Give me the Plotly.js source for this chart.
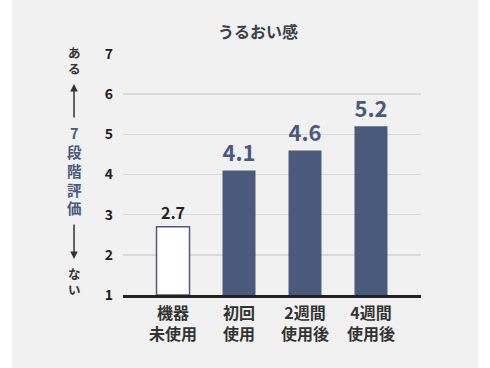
<!DOCTYPE html>
<html><head><meta charset="utf-8">
<script src="https://cdn.plot.ly/plotly-3.0.1.min.js"></script>
<style>
html,body{margin:0;padding:0;background:#fff;}
#chart{width:490px;height:368px;background:linear-gradient(to right,#fff 0,#fff 12px,#f1f1f1 12px,#f1f1f1 478px,#fff 478px);}
</style></head>
<body><div id="chart"></div>
<script>
const categories = ["機器<br>未使用", "初回<br>使用", "2週間<br>使用後", "4週間<br>使用後"];
const values = [2.7, 4.1, 4.6, 5.2];
const valueLabels = ["2.7", "4.1", "4.6", "5.2"];
const yTicks = [1, 2, 3, 4, 5, 6, 7];
const chartTitle = "うるおい感";
const scaleLabel = "7<br>段<br>階<br>評<br>価";
const topLabel = "あ<br>る";
const bottomLabel = "な<br>い";

const navy = "#4a5a7d";
const jp = "'Noto Sans CJK JP', 'Noto Sans', sans-serif";

const trace = {
  type: "bar",
  x: categories,
  y: values.map(v => v - 1),
  base: 1,
  width: 0.5,
  marker: {
    color: values.map((v, i) => i === 0 ? "#ffffff" : navy),
    line: {color: navy, width: values.map((v, i) => i === 0 ? 1.5 : 0)}
  },
  text: valueLabels,
  textposition: "outside",
  cliponaxis: false,
  textfont: {
    family: jp,
    weight: "bold",
    size: values.map((v, i) => i === 0 ? 16 : 23),
    color: values.map((v, i) => i === 0 ? "#222222" : navy)
  },
  hoverinfo: "none"
};

const layout = {
  width: 490, height: 368,
  margin: {l: 123, r: 69, t: 54, b: 73},
  paper_bgcolor: "rgba(0,0,0,0)",
  plot_bgcolor: "rgba(0,0,0,0)",
  showlegend: false,
  title: {
    text: chartTitle,
    font: {family: jp, size: 16, weight: "bold", color: "#3a3f4a"},
    xref: "container", x: 0.5265, xanchor: "center",
    yref: "container", y: 0.913, yanchor: "middle"
  },
  xaxis: {
    type: "category",
    range: [-0.758, 3.758],
    showgrid: false,
    showline: true, linecolor: "#222222", linewidth: 2.5,
    ticks: "",
    ticklabelstandoff: 2,
    tickfont: {family: jp, size: 16, weight: "bold", color: "#333333"},
    fixedrange: true
  },
  yaxis: {
    range: [1, 7],
    tickvals: yTicks,
    ticktext: yTicks.map(String),
    showgrid: true, gridcolor: "#d9d9d9", gridwidth: 1.5,
    zeroline: false,
    showline: false,
    ticks: "",
    ticklabelstandoff: 9,
    tickfont: {family: jp, size: 14, weight: "bold", color: "#222222"},
    fixedrange: true
  },
  annotations: [
    {xref: "paper", yref: "y", x: -0.1644, y: 1 + (295 - 60) / 40.17, text: topLabel, showarrow: false,
     xanchor: "center", yanchor: "middle",
     font: {family: jp, size: 12.5, weight: "bold", color: "#333333"}},
    {xref: "paper", yref: "y", x: -0.1644, y: 1 + (295 - 170) / 40.17, text: scaleLabel, showarrow: false,
     xanchor: "center", yanchor: "middle",
     font: {family: jp, size: 14.5, weight: "bold", color: navy}},
    {xref: "paper", yref: "y", x: -0.1644, y: 1 + (295 - 281) / 40.17, text: bottomLabel, showarrow: false,
     xanchor: "center", yanchor: "middle",
     font: {family: jp, size: 12.5, weight: "bold", color: "#333333"}},
    {xref: "paper", yref: "y", x: -0.1644, y: 1 + (295 - 84) / 40.17, text: "", showarrow: true,
     ax: 0, ay: 35, arrowhead: 2, arrowsize: 1, arrowwidth: 1.5, arrowcolor: "#333333"},
    {xref: "paper", yref: "y", x: -0.1644, y: 1 + (295 - 259) / 40.17, text: "", showarrow: true,
     ax: 0, ay: -36, arrowhead: 2, arrowsize: 1, arrowwidth: 1.5, arrowcolor: "#333333"}
  ]
};

Plotly.newPlot("chart", [trace], layout, {displayModeBar: false, staticPlot: true});
</script>
</body></html>
